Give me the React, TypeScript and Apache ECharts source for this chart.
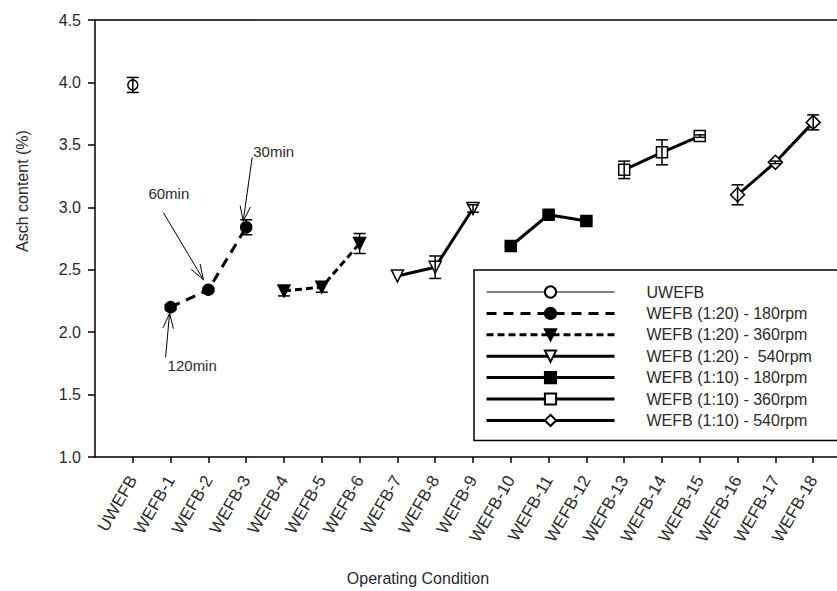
import React, { useEffect, useRef } from "react";
import * as echarts from "echarts";

// ---------- data ----------
const categories = [
  "UWEFB", "WEFB-1", "WEFB-2", "WEFB-3", "WEFB-4", "WEFB-5", "WEFB-6",
  "WEFB-7", "WEFB-8", "WEFB-9", "WEFB-10", "WEFB-11", "WEFB-12",
  "WEFB-13", "WEFB-14", "WEFB-15", "WEFB-16", "WEFB-17", "WEFB-18",
];

const seriesNames = [
  "UWEFB",
  "WEFB (1:20) - 180rpm",
  "WEFB (1:20) - 360rpm",
  "WEFB (1:20) -  540rpm",
  "WEFB (1:10) - 180rpm",
  "WEFB (1:10) - 360rpm",
  "WEFB (1:10) - 540rpm",
];

const seriesCategories = [
  ["UWEFB"],
  ["WEFB-1", "WEFB-2", "WEFB-3"],
  ["WEFB-4", "WEFB-5", "WEFB-6"],
  ["WEFB-7", "WEFB-8", "WEFB-9"],
  ["WEFB-10", "WEFB-11", "WEFB-12"],
  ["WEFB-13", "WEFB-14", "WEFB-15"],
  ["WEFB-16", "WEFB-17", "WEFB-18"],
];

const seriesValues = [
  [3.98],
  [2.2, 2.34, 2.84],
  [2.33, 2.36, 2.71],
  [2.45, 2.52, 2.99],
  [2.69, 2.94, 2.89],
  [3.3, 3.44, 3.57],
  [3.1, 3.36, 3.68],
];

const seriesErrors = [
  [0.06],
  [0.02, 0.01, 0.06],
  [0.04, 0.04, 0.08],
  [0.0, 0.09, 0.03],
  [0.01, 0.01, 0.01],
  [0.07, 0.1, 0.01],
  [0.08, 0.01, 0.06],
];

const yMin = 1.0;
const yMax = 4.5;
const yStep = 0.5;

// annotations: text, series index, point index within series
const annotationTexts = ["120min", "60min", "30min"];
const annotationSeries = [1, 1, 1];
const annotationPoints = [0, 1, 2];

// ---------- styles / layout ----------
const FONT = "'Liberation Sans', Arial, Helvetica, sans-serif";
const TEXT_COLOR = "#2a2a2a";

const seriesStyles = [
  { symbol: "circle", rotate: 0, size: 10, fill: "#fff", dash: "solid", width: 1.2 },
  { symbol: "circle", rotate: 0, size: 11, fill: "#000", dash: [10, 7], width: 3 },
  { symbol: "triangle", rotate: 180, size: 12, fill: "#000", dash: [7, 4], width: 3 },
  { symbol: "triangle", rotate: 180, size: 12, fill: "#fff", dash: "solid", width: 3 },
  { symbol: "rect", rotate: 0, size: 11, fill: "#000", dash: "solid", width: 3 },
  { symbol: "rect", rotate: 0, size: 11, fill: "#fff", dash: "solid", width: 3 },
  { symbol: "diamond", rotate: 0, size: 14, fill: "#fff", dash: "solid", width: 3 },
];

// pixel offsets relative to the annotated point
const annotationLayout = [
  { text: [-3, 58], from: [-5, 50], to: [-1, 6] },
  { text: [-60, -96], from: [-45, -77], to: [-5, -10] },
  { text: [7, -76], from: [6, -70], to: [-3, -6] },
];

export default function App() {
  const ref = useRef<HTMLDivElement>(null);

  useEffect(() => {
    if (!ref.current) return;
    const chart = echarts.init(ref.current, undefined, { renderer: "svg" });

    const catIndex = (c: string) => categories.indexOf(c);
    const tickValues = categories.map((_, i) => i);

    const lineSeries = seriesNames.map((name, i) => {
      const st = seriesStyles[i];
      return {
        type: "line",
        name,
        data: seriesCategories[i].map((c, j) => [catIndex(c), seriesValues[i][j]]),
        symbol: st.symbol,
        symbolSize: st.size,
        symbolRotate: st.rotate,
        showSymbol: true,
        lineStyle: { color: "#000", width: st.width, type: st.dash },
        itemStyle: { color: st.fill, borderColor: "#000", borderWidth: 1.5, opacity: 1 },
        emphasis: { disabled: true },
        z: 2,
      };
    });

    const errorData: number[][] = [];
    seriesNames.forEach((_, i) => {
      seriesCategories[i].forEach((c, j) => {
        const v = seriesValues[i][j];
        const e = seriesErrors[i][j];
        errorData.push([catIndex(c), v - e, v + e]);
      });
    });

    const errorSeries = {
      type: "custom",
      name: "error",
      data: errorData,
      encode: { x: 0, y: [1, 2] },
      z: 4,
      silent: true,
      renderItem: (_params: any, api: any) => {
        const x = api.value(0);
        const lo = api.value(1);
        const hi = api.value(2);
        if (hi - lo < 0.005) return null;
        const p1 = api.coord([x, lo]);
        const p2 = api.coord([x, hi]);
        const hw = 6;
        const st = { stroke: "#000", lineWidth: 1.5 };
        return {
          type: "group",
          children: [
            { type: "line", shape: { x1: p1[0], y1: p1[1], x2: p2[0], y2: p2[1] }, style: st },
            { type: "line", shape: { x1: p1[0] - hw, y1: p1[1], x2: p1[0] + hw, y2: p1[1] }, style: st },
            { type: "line", shape: { x1: p2[0] - hw, y1: p2[1], x2: p2[0] + hw, y2: p2[1] }, style: st },
          ],
        };
      },
    };

    const annotationData = annotationTexts.map((_, k) => {
      const s = annotationSeries[k];
      const p = annotationPoints[k];
      return [catIndex(seriesCategories[s][p]), seriesValues[s][p], k];
    });

    const annotationSeriesOpt = {
      type: "custom",
      name: "annotations",
      data: annotationData,
      encode: { x: 0, y: 1 },
      z: 5,
      silent: true,
      clip: false,
      renderItem: (_params: any, api: any) => {
        const k = api.value(2);
        const c = api.coord([api.value(0), api.value(1)]);
        const L = annotationLayout[k];
        const x1 = c[0] + L.from[0];
        const y1 = c[1] + L.from[1];
        const x2 = c[0] + L.to[0];
        const y2 = c[1] + L.to[1];
        const ang = Math.atan2(y1 - y2, x1 - x2);
        const st = { stroke: "#000", lineWidth: 1 };
        const heads = [-0.33, 0.33].map((d) => ({
          type: "line",
          shape: { x1: x2, y1: y2, x2: x2 + 16 * Math.cos(ang + d), y2: y2 + 16 * Math.sin(ang + d) },
          style: st,
        }));
        return {
          type: "group",
          children: [
            { type: "line", shape: { x1, y1, x2, y2 }, style: st },
            ...heads,
            {
              type: "text",
              x: c[0] + L.text[0],
              y: c[1] + L.text[1],
              style: {
                text: annotationTexts[k],
                fontSize: 15,
                fontFamily: FONT,
                fill: TEXT_COLOR,
                align: "left",
                verticalAlign: "middle",
              },
            },
          ],
        };
      },
    };

    const axisLineStyle = { color: "#000", width: 1.5 };

    chart.setOption({
      animation: false,
      backgroundColor: "#fff",
      textStyle: { fontFamily: FONT },
      grid: { left: 95, right: 0, top: 20, bottom: 134, containLabel: false },
      xAxis: [
        {
          type: "value",
          min: -1,
          max: 18.63,
          interval: 1,
          position: "bottom",
          axisLine: { show: true, onZero: false, lineStyle: axisLineStyle },
          axisTick: { show: true, length: 6, customValues: tickValues, lineStyle: axisLineStyle },
          axisLabel: {
            customValues: tickValues,
            formatter: (v: number) => {
              const i = Math.round(v);
              return Math.abs(v - i) < 1e-6 && categories[i] ? categories[i] : "";
            },
            rotate: 60,
            fontSize: 17,
            color: TEXT_COLOR,
            fontFamily: FONT,
            margin: 20,
            padding: [10, 0, 0, 0],
          },
          splitLine: { show: false },
        },
        {
          type: "value",
          min: -1,
          max: 18.63,
          position: "top",
          axisLine: { show: true, onZero: false, lineStyle: axisLineStyle },
          axisTick: { show: false },
          axisLabel: { show: false },
          splitLine: { show: false },
        },
      ],
      yAxis: {
        type: "value",
        min: yMin,
        max: yMax,
        interval: yStep,
        axisLine: { show: true, onZero: false, lineStyle: axisLineStyle },
        axisTick: { show: true, length: 7, lineStyle: axisLineStyle },
        axisLabel: {
          formatter: (v: number) => v.toFixed(1),
          fontSize: 16,
          color: TEXT_COLOR,
          fontFamily: FONT,
          margin: 14,
        },
        splitLine: { show: false },
      },
      legend: {
        data: seriesNames.map((name, i) => ({
          name,
          lineStyle: {
            color: "#000",
            width: seriesStyles[i].width,
            type: seriesStyles[i].dash,
          },
        })),
        orient: "vertical",
        left: 474,
        top: 270,
        padding: [14, 40, 12, 11],
        itemWidth: 128,
        itemHeight: 14,
        itemGap: 5.4,
        borderColor: "#000",
        borderWidth: 1.5,
        backgroundColor: "#fff",
        selectedMode: false,
        textStyle: {
          fontSize: 16,
          color: TEXT_COLOR,
          fontFamily: FONT,
          padding: [0, 0, 0, 27],
        },
      },
      graphic: [
        {
          type: "text",
          x: 418,
          y: 578,
          style: {
            text: "Operating Condition",
            fontSize: 16,
            fontFamily: FONT,
            fill: TEXT_COLOR,
            align: "center",
            verticalAlign: "middle",
          },
        },
        {
          type: "text",
          x: 22,
          y: 191,
          rotation: Math.PI / 2,
          style: {
            text: "Asch content (%)",
            fontSize: 16,
            fontFamily: FONT,
            fill: TEXT_COLOR,
            align: "center",
            verticalAlign: "middle",
          },
        },
      ],
      series: [...lineSeries, errorSeries, annotationSeriesOpt],
    });

    return () => chart.dispose();
  }, []);

  return (
    <div
      ref={ref}
      style={{ position: "fixed", left: 0, top: 0, width: 837, height: 591, background: "#fff" }}
    />
  );
}
